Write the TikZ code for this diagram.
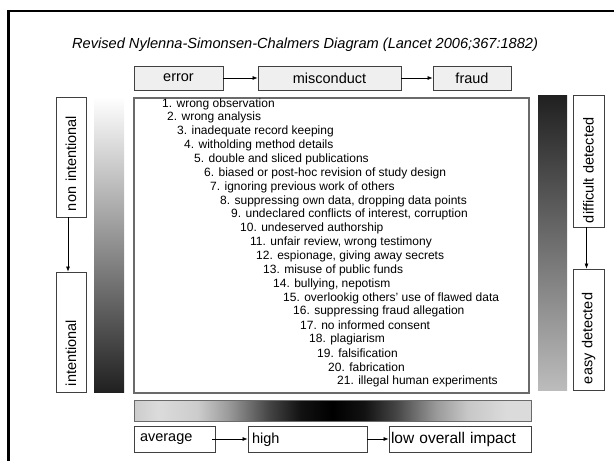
\documentclass[tikz,border=0pt]{standalone}
\usepackage{fontspec}
\setmainfont{Liberation Sans}
\usetikzlibrary{arrows.meta}
\definecolor{boxline}{HTML}{404040}
\definecolor{listline}{HTML}{6A6A6A}
\definecolor{boxfill}{HTML}{EFEFEF}
\definecolor{darkbar}{HTML}{202020}
\definecolor{lightbar}{HTML}{BCBCBC}
\pgfdeclarehorizontalshading{hbar}{100bp}{rgb(0bp)=(0.80,0.80,0.80); rgb(25bp)=(0.80,0.80,0.80); rgb(28bp)=(0.86,0.86,0.86); rgb(33bp)=(0.80,0.80,0.80); rgb(37bp)=(0.60,0.60,0.60); rgb(42bp)=(0.27,0.27,0.27); rgb(46bp)=(0.07,0.07,0.07); rgb(50bp)=(0,0,0); rgb(54bp)=(0.07,0.07,0.07); rgb(58bp)=(0.27,0.27,0.27); rgb(63bp)=(0.60,0.60,0.60); rgb(67bp)=(0.78,0.78,0.78); rgb(72bp)=(0.86,0.86,0.86); rgb(75bp)=(0.86,0.86,0.86); rgb(100bp)=(0.86,0.86,0.86)}
\tikzset{
  boxfont/.style={font=\fontsize{14.5}{16}\selectfont},
  topbox/.style={draw=boxline, line width=0.9pt, fill=boxfill, boxfont, minimum height=24pt, inner sep=0pt},
  lowbox/.style={draw=boxline, line width=0.9pt, fill=white, boxfont, minimum height=26pt, inner sep=0pt, inner xsep=4pt, text depth=2pt, align=left},
  sidebox/.style={draw=boxline, line width=0.9pt, fill=white, boxfont, rotate=90, inner sep=0pt, inner xsep=6pt, align=left},
  item/.style={anchor=west, inner sep=0pt, font=\fontsize{12}{14}\selectfont},
  arr/.style={draw=black, line width=0.6pt, -{Latex[length=5pt,width=4pt]}},
}
\begin{document}
\begin{tikzpicture}[x=1pt,y=-1pt]
\useasboundingbox (0,0) rectangle (614,461);
\clip (0,0) rectangle (614,461);
% outer frame
\draw[line width=2.6pt, black] (8.3,470) -- (8.3,11) -- (620,11);
% title
\node[anchor=west, inner sep=0pt, font=\fontsize{14.6}{16}\selectfont\itshape] (title) at (72,45) {Revised Nylenna-Simonsen-Chalmers Diagram (Lancet 2006;367:1882)};
% top boxes
\node[topbox, minimum width=89pt] (err) at (178.5,78) {error};
\node[topbox, minimum width=143pt] (mis) at (329.5,78) {misconduct};
\node[topbox, minimum width=78pt] (fra) at (472,78) {fraud};
\draw[arr] (err.east) -- (mis.west);
\draw[arr] (mis.east) -- (fra.west);
% main list box
\node[draw=listline, line width=1.2pt, minimum width=395pt, minimum height=295pt, inner sep=0pt] (list) at (331.5,245.5) {};
% gradient bars
\shade[top color=white, bottom color=darkbar] (94,97) rectangle (124,392);
\shade[top color=darkbar, bottom color=lightbar] (538,95) rectangle (567,390);
\shade[shading=hbar, draw=listline, line width=0.8pt] (134,400) rectangle (531,421);
% left side boxes
\node[sidebox, minimum width=120pt, minimum height=30pt, text width=108pt] (ni) at (71,157) {non intentional};
\node[sidebox, minimum width=120pt, minimum height=30pt, text width=108pt] (int) at (71,332) {intentional};
\draw[arr] ([xshift=-3pt]ni.west) -- ([xshift=-3pt]int.east);
% right side boxes
\node[sidebox, minimum width=132pt, minimum height=31pt, text width=124pt, inner xsep=2pt] (dd) at (588.5,161) {difficult detected};
\node[sidebox, minimum width=121pt, minimum height=31pt, text width=109pt] (ed) at (588.5,329.5) {easy detected};
\draw[arr] ([xshift=-2pt]dd.west) -- ([xshift=-2pt]ed.east);
% bottom boxes
\node[lowbox, minimum width=81pt, text width=73pt, inner xsep=4pt] (avg) at (174.5,439) {\hspace*{2pt}average};
\node[lowbox, minimum width=119pt, text width=111pt] (hi) at (307.5,439) {high};
\node[lowbox, minimum width=142pt, text width=138pt, inner xsep=2pt, font=\fontsize{15.5}{17}\selectfont] (low) at (460,439) {low overall impact};
\draw[arr] ([xshift=-3pt]avg.east) -- (hi.west);
\draw[arr] (hi.east) -- (low.west);
% list items
\foreach \n/\xx/\t in {
 1/162/{wrong observation},
 2/167/{wrong analysis},
 3/177/{inadequate record keeping},
 4/184/{witholding method details},
 5/194/{double and sliced publications},
 6/204/{biased or post-hoc revision of study design},
 7/210/{ignoring previous work of others},
 8/220/{suppressing own data, dropping data points},
 9/231/{undeclared conflicts of interest, corruption},
 10/240/{undeserved authorship},
 11/250/{unfair review, wrong testimony},
 12/256/{espionage, giving away secrets},
 13/263/{misuse of public funds},
 14/273/{bullying, nepotism},
 15/283/{overlookig others' use of flawed data},
 16/293/{suppressing fraud allegation},
 17/300/{no informed consent},
 18/309/{plagiarism},
 19/317/{falsification},
 20/328/{fabrication},
 21/337/{illegal human experiments}}
 {\node[item] (i\n) at (\xx,{104+13.85*(\n-1)}) {\n. \t};}
\end{tikzpicture}
\end{document}
